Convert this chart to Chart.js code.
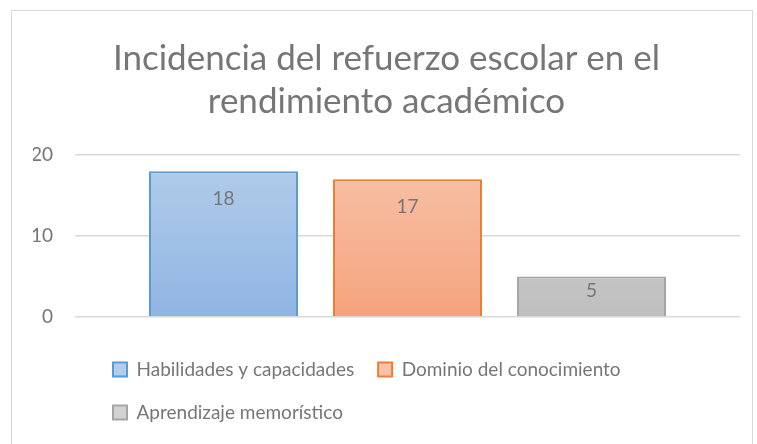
<!DOCTYPE html>
<html>
<head>
<meta charset="utf-8">
<script src="https://cdn.jsdelivr.net/npm/chart.js@4"></script>
<style>
  body { margin: 0; background: #fff; }
  #box { position: absolute; left: 11px; top: 10px; width: 740px; height: 440px; border: 1px solid #d9d9d9; }
</style>
</head>
<body>
<div id="box"><canvas id="myChart"></canvas></div>
<script>
const categories = ["Incidencia"];
const seriesNames = ["Habilidades y capacidades", "Dominio del conocimiento", "Aprendizaje memorístico"];
const habilidades = [18];
const dominio = [17];
const memoristico = [5];
const yTicks = [0, 10, 20];

const textGray = "#767676";
const fontFamily = "Lato, 'Open Sans', sans-serif";

// top colour, bottom colour, outline
const blue = ["#b3cdea", "#90b5e3", "#5b9bd5"];
const orange = ["#f8c3aa", "#f5a37d", "#ed7d31"];
const gray = ["#d3d3d3", "#bfbfbf", "#a5a5a5"];

function fill(c) {
  return function (context) {
    const area = context.chart.chartArea;
    if (!area) return c[1];
    const g = context.chart.ctx.createLinearGradient(0, area.top, 0, area.bottom);
    g.addColorStop(0, c[0]);
    g.addColorStop(1, c[1]);
    return g;
  };
}

function dataset(label, data, c) {
  return {
    label: label,
    data: data,
    backgroundColor: fill(c),
    borderColor: c[2],
    borderWidth: 2,
    legendFill: c[0],
    categoryPercentage: 0.83,
    barPercentage: 0.81,
  };
}

const barLabels = {
  id: "barLabels",
  afterLayout(chart) {
    // legend rows start under the plot, not at the canvas edge
    chart.legend.left = 77;
  },
  afterDatasetsDraw(chart) {
    const ctx = chart.ctx;
    ctx.save();
    ctx.font = "19px " + fontFamily;
    ctx.fillStyle = textGray;
    ctx.textAlign = "center";
    ctx.textBaseline = "middle";
    chart.data.datasets.forEach(function (ds, i) {
      chart.getDatasetMeta(i).data.forEach(function (bar, j) {
        const h = bar.base - bar.y;
        ctx.fillText(ds.data[j], bar.x, bar.y + Math.min(28, h * 0.37));
      });
    });
    ctx.restore();
  },
};

const ctx = document.getElementById("myChart");

new Chart(ctx, {
  type: "bar",
  data: {
    labels: categories,
    datasets: [
      dataset(seriesNames[0], habilidades, blue),
      dataset(seriesNames[1], dominio, orange),
      dataset(seriesNames[2], memoristico, gray),
    ],
  },
  options: {
    responsive: true,
    maintainAspectRatio: false,
    animation: false,
    layout: {
      padding: { left: 21, right: 12, top: 0, bottom: 19 },
    },
    plugins: {
      title: {
        display: true,
        text: ["Incidencia del refuerzo escolar en el", "rendimiento académico"],
        color: textGray,
        font: { family: fontFamily, size: 35, weight: "normal", lineHeight: "43px" },
        padding: { top: 26, bottom: 32 },
      },
      legend: {
        position: "bottom",
        align: "start",
        labels: {
          boxWidth: 14,
          boxHeight: 14,
          padding: 24,
          color: textGray,
          font: { family: fontFamily, size: 19 },
          generateLabels(chart) {
            const items = Chart.defaults.plugins.legend.labels.generateLabels(chart);
            items.forEach(function (it) {
              it.fillStyle = chart.data.datasets[it.datasetIndex].legendFill;
            });
            return items;
          },
        },
      },
      tooltip: { enabled: false },
    },
    scales: {
      x: {
        ticks: { display: false },
        grid: { display: false },
        border: { display: false },
        afterFit(scale) {
          scale.height = 19;
        },
      },
      y: {
        min: yTicks[0],
        max: yTicks[yTicks.length - 1],
        afterBuildTicks(scale) {
          scale.ticks = yTicks.map(function (v) { return { value: v }; });
        },
        ticks: {
          color: textGray,
          padding: 22,
          font: { family: fontFamily, size: 19 },
        },
        grid: { color: "#d9d9d9", lineWidth: 1.5, drawTicks: false },
        border: { display: false },
        afterFit(scale) {
          scale.width = 42;
        },
      },
    },
  },
  plugins: [barLabels],
});
</script>
</body>
</html>
